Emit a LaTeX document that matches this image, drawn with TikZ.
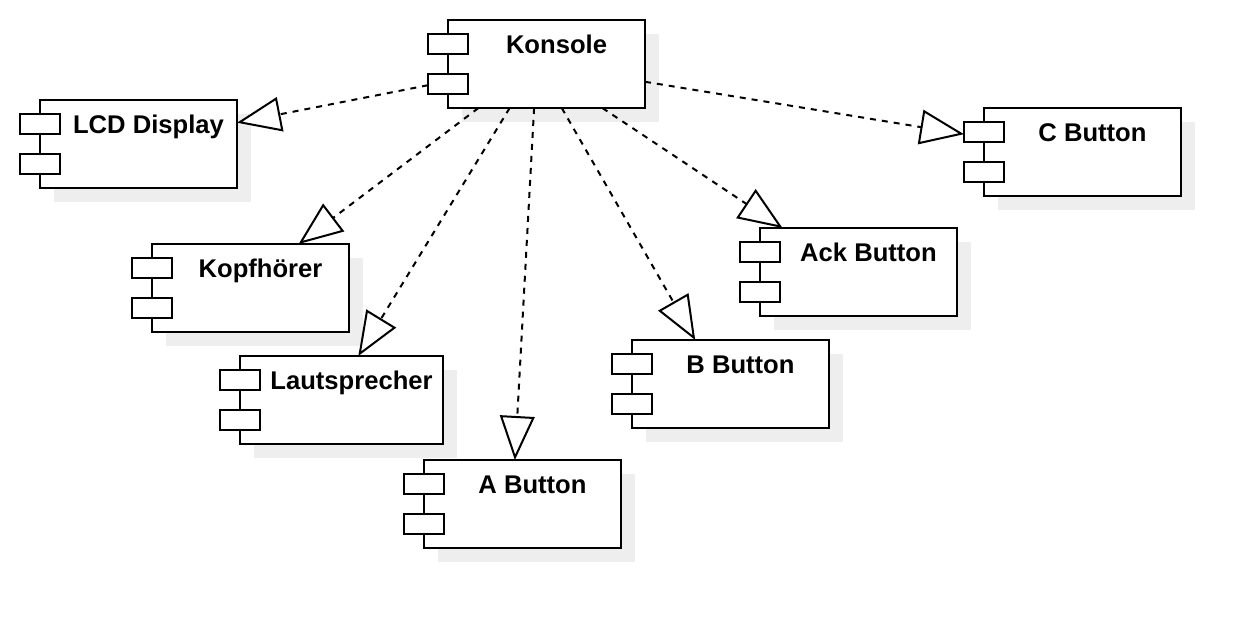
\documentclass[tikz,border=0pt]{standalone}
\usepackage{fontspec}
\setmainfont{Liberation Sans}
\usetikzlibrary{arrows.meta}
\definecolor{shadowgray}{HTML}{EEEEEE}

\begin{document}
\begin{tikzpicture}[
  x=0.75pt, y=-0.75pt,
  shadowbox/.style={fill=shadowgray},
  frame/.style={draw, fill=white, line width=1.5pt},
  bbox/.style={anchor=north west, inner sep=0pt, outer sep=0pt, minimum height=66pt},
  title/.style={anchor=north, inner sep=0pt, outer sep=0pt,
    text height=25.1pt, text depth=0pt, font=\bfseries\fontsize{19.2}{22}\selectfont},
  port/.style={draw, fill=white, line width=1.5pt, minimum width=30pt, minimum height=15pt, inner sep=0pt},
  dep/.style={line width=1.5pt, dash pattern=on 4.5pt off 4.5pt,
    -{Triangle[length=33pt, width=26pt, fill=white]}}
]
  \useasboundingbox (0,0) rectangle (1260,628);

  % Components (name/left/top/width/title)
  \foreach \nm/\x/\y/\w/\txt in {
      konsole/448/20/197/Konsole,
      lcd/40/100/197/LCD Display,
      kopf/152/244/197/Kopfhörer,
      laut/240/356/203/Lautsprecher,
      abtn/424/460/197/A Button,
      bbtn/632/340/197/B Button,
      ackbtn/760/228/197/Ack Button,
      cbtn/984/108/197/C Button}
  {
    \fill[shadowbox] (\x+14,\y+14) rectangle ++(\w,88);
    \draw[frame] (\x,\y) rectangle ++(\w,88);
    \node[bbox, minimum width={(\w+20)*0.75pt}] (\nm) at (\x-20,\y) {};
    \node[title] (\nm-title) at (\x+10+\w/2,\y) {\txt};
    \node[port] (\nm-p1) at (\x,\y+24) {};
    \node[port] (\nm-p2) at (\x,\y+64) {};
  }

  % Dependencies
  \draw[dep] (konsole) -- (lcd);
  \draw[dep] (konsole) -- (kopf);
  \draw[dep] (konsole) -- (laut);
  \draw[dep] (konsole) -- (abtn);
  \draw[dep] (konsole) -- (bbtn);
  \draw[dep] (konsole) -- (ackbtn);
  \draw[dep] (konsole) -- (cbtn);
\end{tikzpicture}
\end{document}
